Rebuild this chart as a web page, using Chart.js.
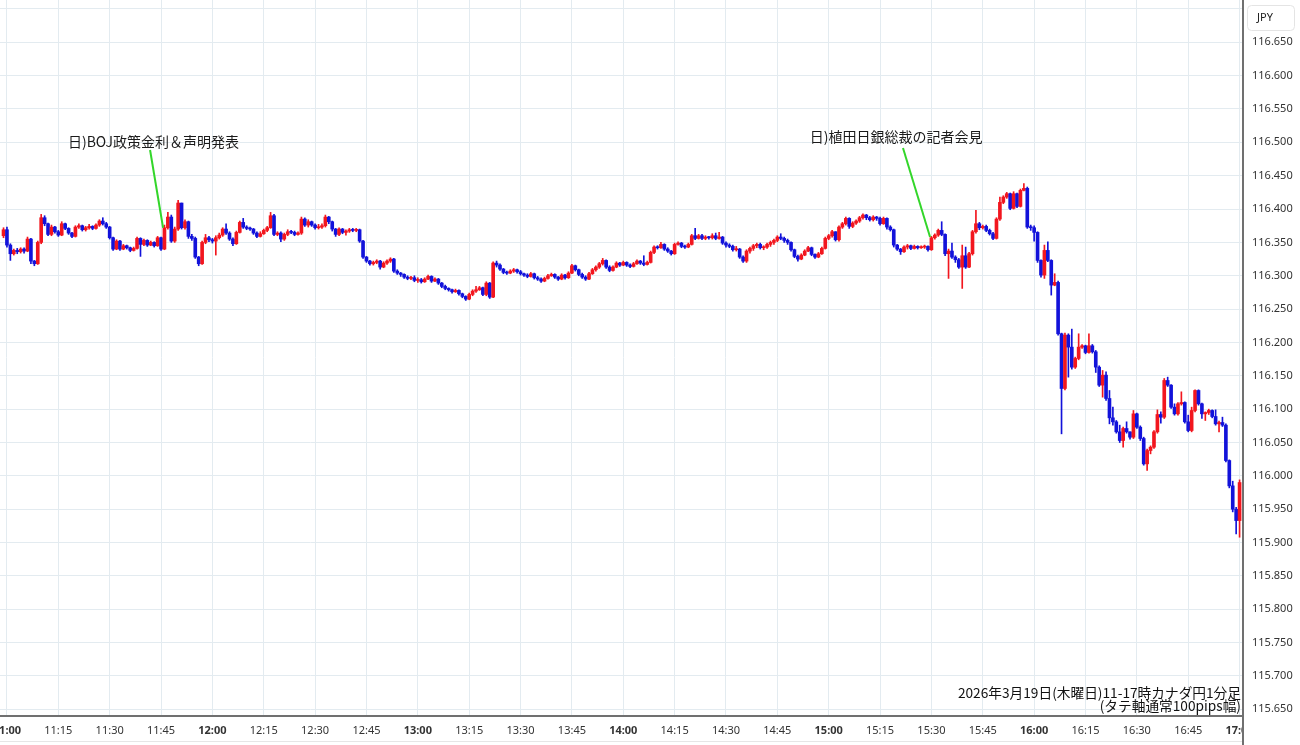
<!DOCTYPE html>
<html>
<head>
<meta charset="utf-8">
<script src="https://cdn.jsdelivr.net/npm/chart.js@4.4.1/dist/chart.umd.min.js"></script>
<style>
  html, body { margin: 0; padding: 0; background: #fff; }
  #wrap { width: 1300px; height: 745px; }
</style>
</head>
<body>
<div id="wrap"><canvas id="chart" width="1300" height="745"></canvas></div>
<script>
// CAD/JPY 1-minute candles, 10:59 - 17:00 (minute index from 11:00)
const firstMinute = -1;
const firstOpen = 116.360;

const closes = [
  116.369,116.346,116.333,116.338,116.336,116.340,116.337,116.355,116.322,116.318,116.350,116.387,116.378,116.362,116.373,116.366,
  116.361,116.378,116.371,116.364,116.359,116.373,116.375,116.369,116.372,116.374,116.371,116.376,116.382,116.378,116.373,
  116.357,116.340,116.352,116.340,116.345,116.342,116.338,116.341,116.356,116.347,116.353,116.346,116.350,116.345,116.357,
  116.340,116.372,116.388,116.352,116.370,116.409,116.372,116.381,116.359,116.356,116.328,116.318,116.350,116.357,116.354,
  116.352,116.357,116.361,116.370,116.364,116.355,116.348,116.365,116.380,116.373,116.371,116.370,116.364,116.359,116.363,
  116.368,116.372,116.390,116.362,116.364,116.355,116.362,116.366,116.365,116.362,116.364,116.385,116.376,116.381,116.376,
  116.372,116.373,116.375,116.388,116.381,116.370,116.362,116.370,116.365,116.367,116.369,116.368,116.369,116.352,116.328,
  116.322,116.318,116.320,116.322,116.313,116.319,116.322,116.325,116.307,116.304,116.302,116.298,116.296,116.297,116.293,
  116.294,116.291,116.295,116.299,116.292,116.295,116.289,116.284,116.281,116.279,116.276,116.278,116.273,116.269,116.265,
  116.272,116.277,116.279,116.282,116.272,116.289,116.268,116.319,116.316,116.310,116.305,116.304,116.307,116.309,116.306,
  116.303,116.301,116.299,116.303,116.297,116.295,116.292,116.296,116.300,116.302,116.298,116.295,116.301,116.297,116.304,
  116.315,116.309,116.302,116.298,116.295,116.303,116.309,116.313,116.318,116.323,116.313,116.308,116.313,116.319,116.316,
  116.320,116.316,116.314,116.318,116.322,116.319,116.317,116.320,116.335,116.343,116.342,116.347,116.340,116.337,116.333,
  116.347,116.349,116.344,116.343,116.347,116.360,116.356,116.360,116.356,116.358,116.357,116.360,116.356,116.358,116.349,
  116.346,116.344,116.339,116.340,116.328,116.322,116.337,116.341,116.345,116.347,116.342,116.343,116.347,116.350,116.353,
  116.358,116.356,116.353,116.350,116.339,116.329,116.325,116.331,116.337,116.342,116.332,116.328,116.333,116.341,116.356,
  116.360,116.366,116.354,116.373,116.378,116.386,116.374,116.379,116.382,116.387,116.391,116.387,116.384,116.388,116.386,
  116.378,116.386,116.373,116.369,116.346,116.340,116.336,116.343,116.345,116.341,116.344,116.342,116.343,116.344,116.339,
  116.357,116.361,116.368,116.362,116.333,116.337,116.328,116.324,116.313,116.330,116.313,116.333,116.366,116.378,116.372,
  116.374,116.368,116.363,116.356,116.385,116.410,116.418,116.423,116.401,116.423,116.404,116.428,116.431,116.373,116.372,
  116.365,116.323,116.301,116.338,116.323,116.286,116.290,116.213,116.131,116.211,116.193,116.163,116.176,116.193,116.195,
  116.185,116.195,116.186,116.163,116.136,116.151,116.116,116.087,116.081,116.066,116.053,116.071,116.066,116.058,116.093,
  116.073,116.056,116.018,116.038,116.043,116.066,116.092,116.088,116.143,116.136,116.103,116.093,116.108,116.110,116.081,
  116.068,116.098,116.128,116.108,116.093,116.095,116.098,116.089,116.078,116.080,116.076,116.023,115.985,115.950,115.933,
  115.990
];

const highs = [
  116.372,116.373,116.348,116.340,116.341,116.342,116.342,116.358,116.356,116.323,116.352,116.392,116.390,116.379,116.376,116.374,
  116.368,116.381,116.379,116.372,116.365,116.375,116.378,116.376,116.374,116.377,116.375,116.378,116.384,116.387,116.380,
  116.374,116.358,116.354,116.353,116.347,116.346,116.343,116.343,116.358,116.357,116.355,116.354,116.352,116.351,116.359,
  116.358,116.376,116.395,116.391,116.373,116.413,116.405,116.384,116.382,116.362,116.358,116.329,116.352,116.362,116.359,
  116.356,116.360,116.364,116.372,116.378,116.366,116.357,116.367,116.382,116.386,116.375,116.373,116.371,116.366,116.366,
  116.370,116.374,116.395,116.392,116.366,116.366,116.364,116.369,116.368,116.367,116.366,116.388,116.387,116.384,116.382,
  116.378,116.377,116.378,116.391,116.389,116.382,116.371,116.372,116.371,116.369,116.371,116.371,116.371,116.370,116.353,
  116.329,116.323,116.322,116.324,116.323,116.321,116.324,116.327,116.326,116.309,116.305,116.303,116.300,116.299,116.300,
  116.297,116.296,116.297,116.301,116.300,116.297,116.296,116.290,116.286,116.282,116.280,116.280,116.279,116.274,116.270,
  116.274,116.279,116.284,116.284,116.283,116.291,116.290,116.321,116.322,116.318,116.311,116.307,116.309,116.311,116.310,
  116.308,116.304,116.303,116.305,116.304,116.299,116.297,116.298,116.302,116.304,116.303,116.299,116.303,116.302,116.306,
  116.317,116.316,116.310,116.304,116.300,116.305,116.311,116.315,116.320,116.326,116.324,116.315,116.315,116.321,116.320,
  116.322,116.321,116.318,116.320,116.324,116.323,116.330,116.322,116.337,116.345,116.345,116.350,116.348,116.342,116.338,
  116.349,116.351,116.350,116.346,116.349,116.362,116.371,116.362,116.362,116.360,116.359,116.363,116.364,116.365,116.359,
  116.351,116.348,116.346,116.344,116.341,116.330,116.339,116.343,116.347,116.349,116.349,116.345,116.349,116.352,116.355,
  116.360,116.363,116.358,116.355,116.351,116.340,116.331,116.333,116.339,116.344,116.343,116.333,116.335,116.343,116.358,
  116.362,116.368,116.366,116.375,116.380,116.388,116.387,116.381,116.384,116.389,116.393,116.392,116.389,116.390,116.389,
  116.388,116.388,116.387,116.375,116.370,116.347,116.341,116.345,116.347,116.346,116.346,116.345,116.345,116.346,116.345,
  116.359,116.363,116.370,116.381,116.363,116.340,116.349,116.330,116.326,116.346,116.343,116.335,116.368,116.398,116.380,
  116.376,116.376,116.370,116.365,116.387,116.418,116.420,116.425,116.424,116.426,116.424,116.430,116.438,116.433,116.376,
  116.375,116.366,116.324,116.346,116.351,116.324,116.303,116.292,116.214,116.214,116.213,116.220,116.178,116.213,116.197,
  116.196,116.213,116.197,116.188,116.165,116.158,116.156,116.128,116.103,116.083,116.076,116.073,116.081,116.066,116.098,
  116.094,116.075,116.058,116.040,116.045,116.068,116.099,116.096,116.146,116.148,116.137,116.108,116.110,116.126,116.111,
  116.091,116.103,116.129,116.129,116.109,116.096,116.100,116.099,116.099,116.082,116.088,116.078,116.024,115.992,115.953,
  115.994
];

const lows = [
  116.357,116.343,116.323,116.331,116.333,116.334,116.334,116.336,116.318,116.315,116.317,116.348,116.375,116.360,116.360,116.364,
  116.359,116.360,116.369,116.362,116.357,116.358,116.371,116.367,116.367,116.370,116.369,116.370,116.374,116.376,116.371,
  116.355,116.338,116.339,116.338,116.339,116.340,116.336,116.337,116.340,116.329,116.345,116.344,116.345,116.343,116.344,
  116.338,116.339,116.370,116.350,116.350,116.368,116.370,116.370,116.356,116.353,116.326,116.315,116.317,116.348,116.351,
  116.349,116.331,116.355,116.359,116.362,116.353,116.345,116.347,116.364,116.371,116.369,116.368,116.362,116.357,116.358,
  116.362,116.366,116.371,116.360,116.360,116.351,116.353,116.360,116.363,116.360,116.361,116.362,116.374,116.373,116.374,
  116.370,116.370,116.371,116.373,116.378,116.367,116.359,116.360,116.363,116.361,116.365,116.366,116.366,116.350,116.326,
  116.320,116.316,116.316,116.318,116.310,116.312,116.317,116.320,116.305,116.302,116.299,116.296,116.294,116.294,116.291,
  116.290,116.289,116.290,116.294,116.290,116.291,116.287,116.282,116.279,116.277,116.274,116.275,116.271,116.267,116.263,
  116.264,116.270,116.275,116.278,116.270,116.270,116.266,116.267,116.313,116.308,116.303,116.302,116.303,116.305,116.304,
  116.301,116.299,116.297,116.298,116.295,116.293,116.290,116.291,116.295,116.299,116.296,116.293,116.294,116.295,116.296,
  116.303,116.307,116.300,116.296,116.293,116.294,116.302,116.307,116.311,116.316,116.311,116.306,116.307,116.312,116.314,
  116.315,116.314,116.312,116.313,116.317,116.317,116.315,116.316,116.319,116.333,116.340,116.341,116.338,116.335,116.331,
  116.332,116.346,116.342,116.341,116.342,116.346,116.354,116.355,116.354,116.354,116.355,116.355,116.354,116.355,116.347,
  116.343,116.342,116.337,116.337,116.326,116.320,116.320,116.334,116.338,116.342,116.340,116.339,116.341,116.344,116.347,
  116.351,116.354,116.350,116.347,116.337,116.327,116.322,116.324,116.330,116.336,116.330,116.326,116.327,116.332,116.340,
  116.354,116.358,116.352,116.352,116.371,116.376,116.371,116.372,116.377,116.380,116.385,116.384,116.382,116.382,116.383,
  116.376,116.377,116.370,116.367,116.343,116.338,116.332,116.335,116.340,116.339,116.340,116.340,116.341,116.341,116.337,
  116.338,116.355,116.359,116.360,116.330,116.296,116.326,116.320,116.311,116.281,116.311,116.312,116.331,116.364,116.369,
  116.370,116.366,116.361,116.354,116.355,116.383,116.408,116.416,116.399,116.400,116.402,116.403,116.427,116.371,116.368,
  116.352,116.320,116.298,116.296,116.321,116.271,116.285,116.211,116.063,116.129,116.148,116.160,116.161,116.174,116.191,
  116.183,116.184,116.184,116.155,116.134,116.118,116.113,116.078,116.076,116.064,116.050,116.043,116.064,116.055,116.056,
  116.071,116.053,116.016,116.008,116.033,116.041,116.064,116.079,116.086,116.134,116.101,116.091,116.091,116.106,116.079,
  116.066,116.066,116.096,116.106,116.086,116.083,116.092,116.087,116.076,116.066,116.074,116.021,115.982,115.946,115.913,
  115.908
];

const yTicks = [115.650, 115.700, 115.750, 115.800, 115.850, 115.900, 115.950, 116.000, 116.050, 116.100, 116.150,
  116.200, 116.250, 116.300, 116.350, 116.400, 116.450, 116.500, 116.550, 116.600, 116.650, 116.700];
const xTicks = [0, 15, 30, 45, 60, 75, 90, 105, 120, 135, 150, 165, 180, 195, 210, 225, 240, 255, 270, 285, 300, 315, 330, 345, 360];
const xTickLabels = ['11:00', '11:15', '11:30', '11:45', '12:00', '12:15', '12:30', '12:45', '13:00', '13:15', '13:30', '13:45',
  '14:00', '14:15', '14:30', '14:45', '15:00', '15:15', '15:30', '15:45', '16:00', '16:15', '16:30', '16:45', '17:00'];

// event notes: label anchor and pointer line, in (minute, price)
const notes = [
  { text: '日)BOJ政策金利＆声明発表', at: [42.8, 116.5005], from: [41.8, 116.4885], to: [45.6, 116.372] },
  { text: '日)植田日銀総裁の記者会見', at: [259.7, 116.508], from: [261.7, 116.4914], to: [269.6, 116.358] }
];
const caption = ['2026年3月19日(木曜日)11-17時カナダ円1分足', '(タテ軸通常100pips幅)'];

const UP = '#f2161e';
const DOWN = '#1212da';
const FONT = '"Noto Sans", "Noto Sans CJK JP", sans-serif';
const CJK = '"Noto Sans CJK JP", "Noto Sans", sans-serif';

const opens = closes.map((c, i) => i === 0 ? firstOpen : closes[i - 1]);
const colors = closes.map((c, i) => c >= opens[i] ? UP : DOWN);
const bodies = closes.map((c, i) => ({ x: firstMinute + i, y: [opens[i], c] }));
const wicks = closes.map((c, i) => ({
  x: firstMinute + i,
  y: [Math.min(lows[i], opens[i], c), Math.max(highs[i], opens[i], c)]
}));

const extras = {
  id: 'extras',
  afterDatasetsDraw(chart) {
    const { ctx, chartArea, scales: { x, y } } = chart;
    ctx.save();
    notes.forEach(n => {
      ctx.strokeStyle = '#33d62a';
      ctx.lineWidth = 2;
      ctx.beginPath();
      ctx.moveTo(x.getPixelForValue(n.from[0]), y.getPixelForValue(n.from[1]));
      ctx.lineTo(x.getPixelForValue(n.to[0]), y.getPixelForValue(n.to[1]));
      ctx.stroke();
      ctx.fillStyle = '#1a1a1a';
      ctx.font = '14px ' + CJK;
      ctx.textAlign = 'center';
      ctx.textBaseline = 'middle';
      ctx.fillText(n.text, x.getPixelForValue(n.at[0]), y.getPixelForValue(n.at[1]));
    });
    ctx.fillStyle = '#111';
    ctx.font = '13.7px ' + CJK;
    ctx.textAlign = 'right';
    ctx.textBaseline = 'middle';
    ctx.fillText(caption[0], chartArea.right - 2, chartArea.bottom - 23);
    ctx.fillText(caption[1], chartArea.right - 2, chartArea.bottom - 10);
    ctx.restore();
  },
  afterDraw(chart) {
    const { ctx, chartArea } = chart;
    ctx.save();
    // hide the x labels running under the price axis
    ctx.fillStyle = '#fff';
    ctx.fillRect(chartArea.right + 1, chartArea.bottom + 1, 60, 40);
    ctx.fillStyle = '#e6e6e6';
    ctx.fillRect(0, 741, chartArea.right, 1);
    ctx.fillStyle = '#707070';
    ctx.fillRect(chartArea.right - 1, chartArea.bottom - 2, 2, 40);
    // currency box
    ctx.fillStyle = '#fff';
    ctx.strokeStyle = '#e4e4e4';
    ctx.lineWidth = 1;
    ctx.beginPath();
    ctx.roundRect(1247.5, 5.5, 47, 25, 4);
    ctx.fill();
    ctx.stroke();
    ctx.fillStyle = '#222';
    ctx.font = '11px ' + FONT;
    ctx.textAlign = 'left';
    ctx.textBaseline = 'middle';
    ctx.fillText('JPY', 1257, 18);
    ctx.restore();
  }
};

new Chart(document.getElementById('chart'), {
  type: 'bar',
  data: {
    datasets: [
      { label: 'wick', data: wicks, backgroundColor: colors, barThickness: 1, grouped: false, order: 2 },
      { label: 'body', data: bodies, backgroundColor: colors, barThickness: 3, grouped: false, minBarLength: 1, order: 1 }
    ]
  },
  options: {
    responsive: false,
    animation: false,
    layout: { padding: 0 },
    plugins: { legend: { display: false }, tooltip: { enabled: false } },
    scales: {
      x: {
        type: 'linear',
        min: -2.03,
        max: 361,
        offset: false,
        grid: { color: '#e3ebf0', drawTicks: false, offset: false },
        border: { color: '#707070', width: 2 },
        afterBuildTicks: s => { s.ticks = xTicks.map(v => ({ value: v })); },
        afterFit: s => { s.height = 29; s.paddingLeft = 0; s.paddingRight = 0; },
        ticks: {
          autoSkip: false,
          maxRotation: 0,
          padding: 8,
          color: '#333',
          font: c => ({ family: FONT, size: 11, weight: c.tick && c.tick.value % 60 === 0 ? 'bold' : 'normal' }),
          callback: v => xTickLabels[xTicks.indexOf(v)]
        }
      },
      y: {
        position: 'right',
        min: 115.64,
        max: 116.7134,
        grid: { color: '#e3ebf0', drawTicks: false },
        border: { color: '#707070', width: 2 },
        afterBuildTicks: s => { s.ticks = yTicks.map(v => ({ value: v })); },
        afterFit: s => { s.width = 57; s.paddingTop = 0; s.paddingBottom = 0; },
        ticks: {
          padding: 9,
          color: '#333',
          font: { family: FONT, size: 11 },
          callback: v => v > 116.69 ? '' : v.toFixed(3)
        }
      }
    }
  },
  plugins: [extras]
});
</script>
</body>
</html>
